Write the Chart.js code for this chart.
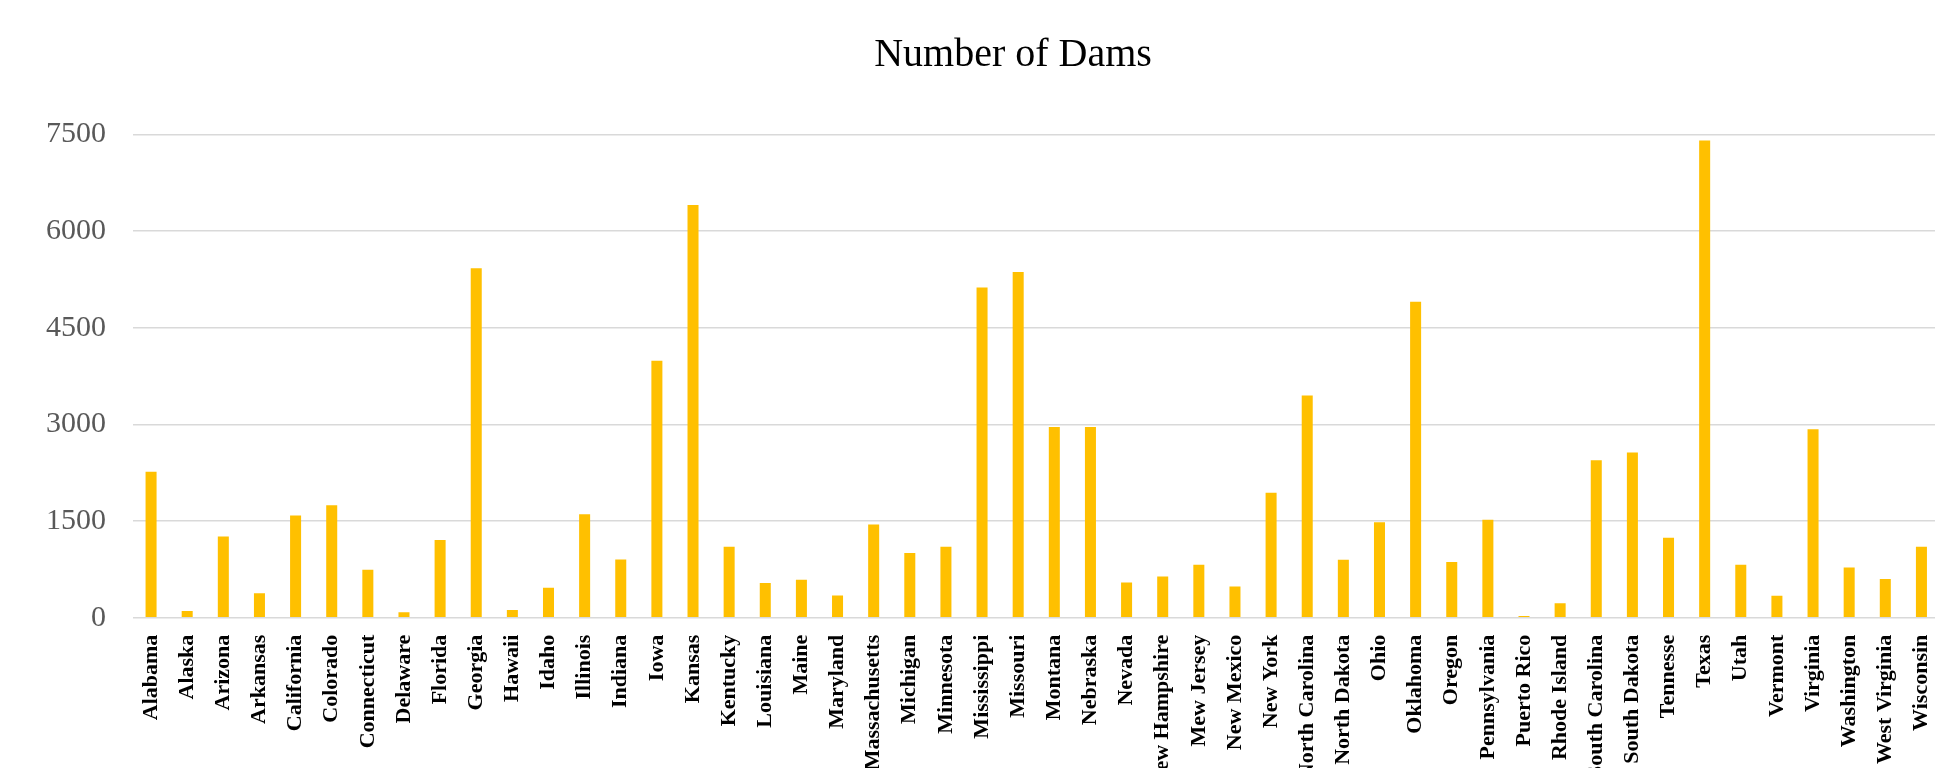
<!DOCTYPE html>
<html>
<head>
<meta charset="utf-8">
<script src="https://cdn.jsdelivr.net/npm/chart.js@4"></script>
<style>
  html, body { margin: 0; padding: 0; background: #fff; overflow: hidden; }
</style>
</head>
<body>
<canvas id="dams" width="1986" height="768"></canvas>
<script>
// Data
const states = [
  "Alabama", "Alaska", "Arizona", "Arkansas", "California", "Colorado",
  "Connecticut", "Delaware", "Florida", "Georgia", "Hawaii", "Idaho",
  "Illinois", "Indiana", "Iowa", "Kansas", "Kentucky", "Louisiana", "Maine",
  "Maryland", "Massachusetts", "Michigan", "Minnesota", "Mississippi",
  "Missouri", "Montana", "Nebraska", "Nevada", "New Hampshire", "Mew Jersey",
  "New Mexico", "New York", "North Carolina", "North Dakota", "Ohio",
  "Oklahoma", "Oregon", "Pennsylvania", "Puerto Rico", "Rhode Island",
  "South Carolina", "South Dakota", "Tennesse", "Texas", "Utah", "Vermont",
  "Virginia", "Washington", "West Virginia", "Wisconsin",
];
const damCounts = [
  2265, 105, 1260, 380, 1585, 1745,
  745, 85, 1205, 5425, 120, 465,
  1605, 905, 3990, 6405, 1100, 540, 590,
  345, 1445, 1005, 1100, 5125,
  5365, 2960, 2960, 545, 640, 820,
  485, 1940, 3450, 900, 1480,
  4905, 865, 1520, 25, 225,
  2445, 2565, 1240, 7405, 820, 340,
  2925, 780, 600, 1100,
];
const yTicks = [0, 1500, 3000, 4500, 6000, 7500];

const serif = '"Liberation Serif", "Times New Roman", serif';

new Chart(document.getElementById("dams"), {
  type: "bar",
  data: {
    labels: states,
    datasets: [
      {
        data: damCounts,
        backgroundColor: "#FFC000",
        borderWidth: 0,
        barPercentage: 0.305,
        categoryPercentage: 1,
      },
    ],
  },
  options: {
    responsive: false,
    animation: false,
    layout: {
      padding: { left: 40, right: 0, top: 0, bottom: 0 },
    },
    plugins: {
      legend: { display: false },
      tooltip: { enabled: false },
      title: {
        display: true,
        text: "Number of Dams",
        color: "#000",
        font: { family: serif, size: 40, weight: "normal" },
        padding: { top: 31, bottom: 55.5 },
      },
    },
    scales: {
      y: {
        min: 0,
        max: 7500,
        afterBuildTicks: (axis) => {
          axis.ticks = yTicks.map((v) => ({ value: v }));
        },
        afterFit: (axis) => {
          axis.width = 93;
        },
        grid: { color: "#d9d9d9", lineWidth: 1.5, drawTicks: false },
        border: { display: false },
        ticks: {
          padding: 27,
          color: "#595959",
          font: { family: serif, size: 30 },
          callback: (value) => String(value),
        },
      },
      // empty spacer on the right, the plot runs off the page edge there
      spacer: {
        type: "linear",
        position: "right",
        grid: { display: false },
        border: { display: false },
        ticks: { display: false },
        afterFit: (axis) => {
          axis.width = 46.5;
        },
      },
      x: {
        grid: { display: false },
        border: { display: false },
        afterFit: (axis) => {
          axis.height = 150.3;
        },
        ticks: {
          autoSkip: false,
          minRotation: 90,
          maxRotation: 90,
          padding: 9,
          color: "#000",
          font: { family: serif, size: 22, weight: "bold" },
        },
      },
    },
  },
});
</script>
</body>
</html>
